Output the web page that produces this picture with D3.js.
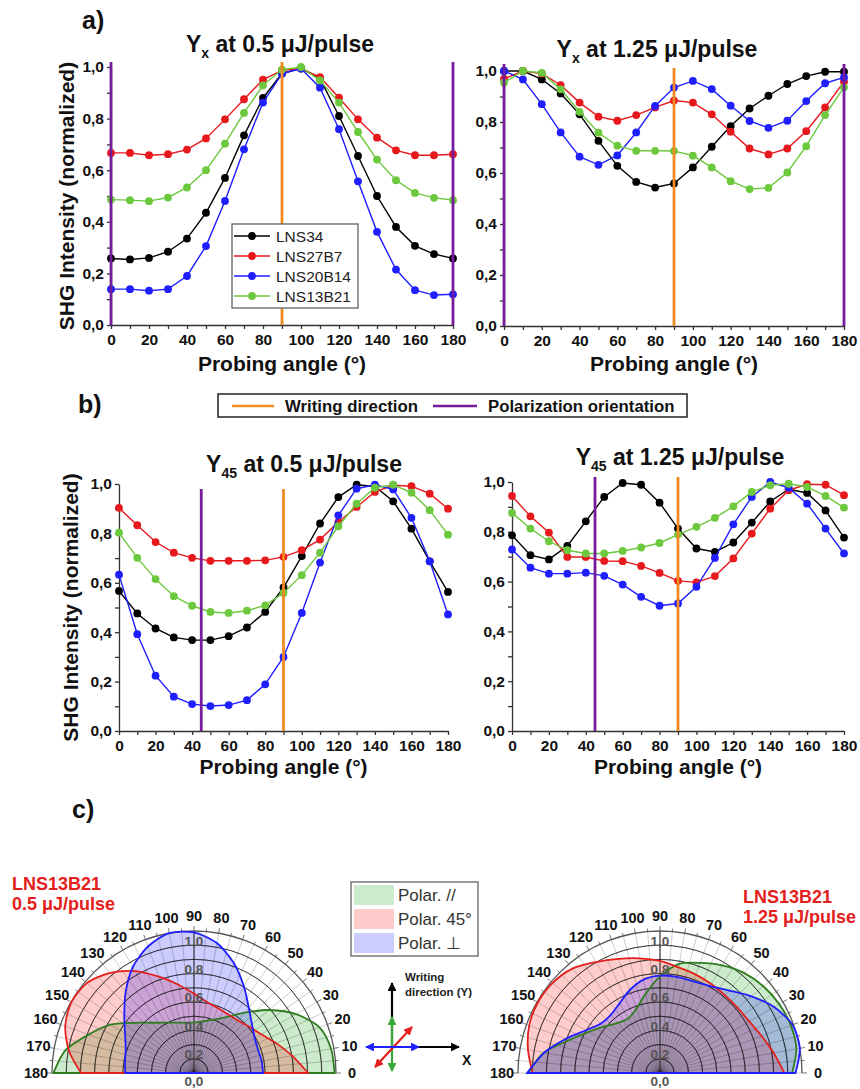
<!DOCTYPE html>
<html>
<head>
<meta charset="utf-8">
<script src="https://cdn.jsdelivr.net/npm/d3@7"></script>
<style>
  body { margin: 0; background: #fff; }
  text { font-family: "Liberation Sans", Arial, sans-serif; }
</style>
</head>
<body>
<svg id="fig" width="860" height="1089"></svg>
<script>
// ---------- Data ----------
const angles = d3.range(0, 181, 10);
const seriesNames = ["LNS34", "LNS27B7", "LNS20B14", "LNS13B21"];
const seriesColors = ["#000000", "#e8191d", "#1e1eff", "#6cc83c"];

const xTicks = [0, 20, 40, 60, 80, 100, 120, 140, 160, 180];
const yTicks = [0, 0.2, 0.4, 0.6, 0.8, 1.0];
const yTickLabels = ["0,0", "0,2", "0,4", "0,6", "0,8", "1,0"];

// Yx at 0.5 uJ/pulse
const yx05_LNS34    = [0.258,0.254,0.26,0.284,0.335,0.435,0.57,0.735,0.88,0.975,0.995,0.955,0.81,0.655,0.5,0.38,0.307,0.275,0.258];
const yx05_LNS27B7  = [0.667,0.667,0.658,0.662,0.68,0.723,0.797,0.875,0.951,0.987,0.994,0.961,0.881,0.797,0.726,0.677,0.658,0.658,0.662];
const yx05_LNS20B14 = [0.139,0.139,0.133,0.139,0.19,0.306,0.481,0.681,0.862,0.974,0.994,0.92,0.759,0.557,0.361,0.215,0.135,0.116,0.119];
const yx05_LNS13B21 = [0.486,0.484,0.48,0.494,0.533,0.6,0.703,0.822,0.929,0.99,1.0,0.948,0.862,0.748,0.641,0.561,0.512,0.493,0.484];

// Yx at 1.25 uJ/pulse
const yx125_LNS34    = [1.0,1.0,0.967,0.912,0.83,0.726,0.628,0.565,0.543,0.559,0.622,0.703,0.784,0.853,0.903,0.949,0.98,0.997,0.997];
const yx125_LNS27B7  = [0.969,1.0,0.99,0.945,0.876,0.821,0.805,0.827,0.857,0.884,0.876,0.83,0.762,0.696,0.673,0.696,0.764,0.857,0.958];
const yx125_LNS20B14 = [1.0,0.967,0.87,0.759,0.664,0.632,0.669,0.759,0.863,0.935,0.961,0.929,0.864,0.804,0.777,0.805,0.882,0.952,0.975];
const yx125_LNS13B21 = [0.954,1.0,0.993,0.928,0.84,0.758,0.707,0.687,0.687,0.686,0.668,0.622,0.568,0.537,0.542,0.602,0.705,0.827,0.936];

// Y45 at 0.5 uJ/pulse
const y4505_LNS34    = [0.567,0.476,0.415,0.379,0.368,0.368,0.384,0.419,0.482,0.581,0.708,0.84,0.947,0.997,0.99,0.93,0.819,0.687,0.563];
const y4505_LNS27B7  = [0.903,0.833,0.765,0.722,0.701,0.689,0.689,0.689,0.691,0.705,0.732,0.775,0.846,0.907,0.968,0.995,0.991,0.961,0.9];
const y4505_LNS20B14 = [0.633,0.392,0.224,0.139,0.109,0.101,0.105,0.125,0.189,0.3,0.478,0.682,0.873,0.981,0.997,0.978,0.863,0.687,0.472];
const y4505_LNS13B21 = [0.803,0.701,0.615,0.546,0.507,0.482,0.478,0.487,0.509,0.559,0.631,0.722,0.829,0.92,0.985,0.997,0.965,0.894,0.795];

// Y45 at 1.25 uJ/pulse
const y45125_LNS34    = [0.786,0.706,0.689,0.743,0.842,0.94,0.996,0.989,0.917,0.813,0.733,0.719,0.757,0.837,0.922,0.971,0.956,0.886,0.777];
const y45125_LNS27B7  = [0.944,0.862,0.797,0.699,0.699,0.683,0.682,0.663,0.635,0.603,0.597,0.622,0.693,0.793,0.893,0.967,0.991,0.989,0.947];
const y45125_LNS20B14 = [0.729,0.656,0.632,0.632,0.636,0.623,0.588,0.539,0.503,0.512,0.579,0.695,0.83,0.94,1.0,0.977,0.913,0.813,0.713];
const y45125_LNS13B21 = [0.876,0.813,0.762,0.726,0.713,0.713,0.723,0.737,0.755,0.789,0.82,0.856,0.902,0.96,0.987,0.993,0.98,0.944,0.897];

// polar "Polar. //" curves of LNS13B21 (the 45 and perpendicular ones are the curves above)
const polarPar05  = [0.99,0.98,0.94,0.83,0.69,0.555,0.455,0.40,0.37,0.355,0.36,0.377,0.409,0.462,0.55,0.68,0.79,0.92,0.99];
const polarPar125 = [0.93,0.975,0.98,0.97,0.95,0.92,0.875,0.825,0.78,0.68,0.57,0.483,0.445,0.46,0.51,0.58,0.68,0.83,0.93];

const polarAngleLabels = d3.range(0, 181, 10);
const polarRings = d3.range(0.1, 1.01, 0.1);
const polarRadialLabels = [0, 0.2, 0.4, 0.6, 0.8, 1.0];
const polarLegend = ["Polar. //", "Polar. 45°", "Polar. ⊥"];
const polarStroke = ["#2f7d1f", "#e4201c", "#1e1eff"];
const polarFill = ["rgba(0,150,0,0.2)", "rgba(255,0,0,0.2)", "rgba(0,0,255,0.2)"];

const writingLine = [90];
const polLinesA = [0, 180];
const polLinesB = [45];

const ORANGE = "#f28a22";
const PURPLE = "#751c9c";

const svg = d3.select("#fig");
const FONT = "'Liberation Sans', Arial, sans-serif";

// ---------- Cartesian panels ----------
function drawPanel(p) {
  const x = d3.scaleLinear().domain([0, 180]).range([p.x0, p.x1]);
  const y = d3.scaleLinear().domain([0, 1]).range([p.yBot, p.yTop]);
  const g = svg.append("g");

  // axes (ticks every 10 / 0.1, labels on majors only)
  const ax = g.append("g")
    .attr("transform", `translate(0,${p.yBot})`)
    .call(d3.axisBottom(x).tickValues(angles).tickSize(4).tickSizeOuter(0).tickPadding(3)
      .tickFormat(d => xTicks.includes(d) ? d : ""));
  const ay = g.append("g")
    .attr("transform", `translate(${p.x0},0)`)
    .call(d3.axisLeft(y).tickValues(d3.range(0, 1.01, 0.1)).tickSize(4).tickSizeOuter(0).tickPadding(3)
      .tickFormat(d => {
        const i = yTicks.findIndex(t => Math.abs(t - d) < 1e-6);
        return i >= 0 ? yTickLabels[i] : "";
      }));
  [ax, ay].forEach(a => {
    a.selectAll("path, line").attr("stroke", "#333").attr("stroke-width", 1.3);
    a.selectAll("text").attr("font-family", FONT).attr("font-weight", "bold")
      .attr("font-size", 15.5).attr("fill", "#111");
  });
  ax.selectAll("text").attr("dy", "0.85em");

  // series
  const line = d3.line().x((d, i) => x(angles[i])).y(d => y(d));
  p.series.forEach((vals, k) => {
    g.append("path").datum(vals).attr("d", line)
      .attr("fill", "none").attr("stroke", seriesColors[k]).attr("stroke-width", 1.4);
    g.selectAll(null).data(vals).enter().append("circle")
      .attr("cx", (d, i) => x(angles[i])).attr("cy", d => y(d)).attr("r", 3.9)
      .attr("fill", seriesColors[k]);
  });

  // reference lines
  p.pol.forEach(v => g.append("line").attr("x1", x(v)).attr("x2", x(v))
    .attr("y1", p.lineTop).attr("y2", p.yBot).attr("stroke", PURPLE).attr("stroke-width", 2.8));
  writingLine.forEach(v => g.append("line").attr("x1", x(v)).attr("x2", x(v))
    .attr("y1", p.orangeTop).attr("y2", p.yBot).attr("stroke", ORANGE).attr("stroke-width", 2.8));

  // title
  const t = g.append("text").attr("x", p.tx).attr("y", p.ty).attr("text-anchor", "middle")
    .attr("font-weight", "bold").attr("font-size", 23).attr("fill", "#111");
  t.append("tspan").text("Y");
  t.append("tspan").attr("font-size", 14).attr("dy", 6).text(p.sub);
  t.append("tspan").attr("dy", -6).text(" at " + p.energy + " μJ/pulse");

  // x title
  g.append("text").attr("x", (p.x0 + p.x1) / 2).attr("y", p.xTitleY).attr("text-anchor", "middle")
    .attr("font-weight", "bold").attr("font-size", 21).attr("fill", "#111").text("Probing angle (°)");

  if (p.yTitleX) {
    g.append("text").attr("transform", `translate(${p.yTitleX},${(p.yTop + p.yBot) / 2}) rotate(-90)`)
      .attr("text-anchor", "middle").attr("font-weight", "bold").attr("font-size", 21)
      .attr("fill", "#111").text("SHG Intensity (normalized)");
  }
  return { x, y };
}

drawPanel({ x0: 111, x1: 453, yTop: 67, yBot: 325, lineTop: 62, orangeTop: 62, pol: polLinesA,
  tx: 280, ty: 52, sub: "x", energy: "0.5", xTitleY: 371, yTitleX: 74,
  series: [yx05_LNS34, yx05_LNS27B7, yx05_LNS20B14, yx05_LNS13B21] });
drawPanel({ x0: 504, x1: 844, yTop: 71, yBot: 326, lineTop: 64, orangeTop: 68, pol: polLinesA,
  tx: 657, ty: 57, sub: "x", energy: "1.25", xTitleY: 371,
  series: [yx125_LNS34, yx125_LNS27B7, yx125_LNS20B14, yx125_LNS13B21] });
drawPanel({ x0: 119, x1: 448, yTop: 484, yBot: 731, lineTop: 489, orangeTop: 489, pol: polLinesB,
  tx: 304, ty: 472, sub: "45", energy: "0.5", xTitleY: 774, yTitleX: 78,
  series: [y4505_LNS34, y4505_LNS27B7, y4505_LNS20B14, y4505_LNS13B21] });
drawPanel({ x0: 512, x1: 844, yTop: 482, yBot: 731, lineTop: 477, orangeTop: 477, pol: polLinesB,
  tx: 680, ty: 465, sub: "45", energy: "1.25", xTitleY: 774,
  series: [y45125_LNS34, y45125_LNS27B7, y45125_LNS20B14, y45125_LNS13B21] });

// series legend in panel a
const leg = svg.append("g");
leg.append("rect").attr("x", 232).attr("y", 224).attr("width", 126).attr("height", 84)
  .attr("fill", "#fff").attr("stroke", "#555").attr("stroke-width", 1.2);
seriesNames.forEach((n, i) => {
  const yy = 236 + i * 20;
  leg.append("line").attr("x1", 234).attr("x2", 270).attr("y1", yy).attr("y2", yy)
    .attr("stroke", seriesColors[i]).attr("stroke-width", 1.4);
  leg.append("circle").attr("cx", 252).attr("cy", yy).attr("r", 3.9).attr("fill", seriesColors[i]);
  leg.append("text").attr("x", 276).attr("y", yy + 5.5).attr("font-size", 15.5).attr("fill", "#222").text(n);
});

// reference line legend
const leg2 = svg.append("g");
leg2.append("rect").attr("x", 218).attr("y", 394).attr("width", 469).attr("height", 23)
  .attr("fill", "#fff").attr("stroke", "#222").attr("stroke-width", 1.5);
[[232, 274, ORANGE, 285, "Writing direction"], [433, 477, PURPLE, 488, "Polarization orientation"]]
  .forEach(([a, b, c, tx, label]) => {
    leg2.append("line").attr("x1", a).attr("x2", b).attr("y1", 406).attr("y2", 406)
      .attr("stroke", c).attr("stroke-width", 2.5);
    leg2.append("text").attr("x", tx).attr("y", 412).attr("font-size", 16.8).attr("font-weight", "bold")
      .attr("fill", "#111").text(label);
  });

// section labels
[["a)", 82, 29], ["b)", 78, 413], ["c)", 72, 818]].forEach(([s, x, y]) =>
  svg.append("text").attr("x", x).attr("y", y).attr("font-size", 25).attr("font-weight", "bold")
    .attr("fill", "#111").text(s));

// ---------- Polar panels ----------
const R = 142;
const rad = d => (90 - d) * Math.PI / 180;

function drawPolar(c) {
  const g = svg.append("g").attr("transform", `translate(${c.cx},${c.cy})`);
  const r = d3.scaleLinear().domain([0, 1]).range([0, R]);
  const area = d3.areaRadial().angle(d => rad(d[0])).innerRadius(0).outerRadius(d => r(d[1]))
    .curve(d3.curveCardinal.tension(0.2));

  const data = c.series.map(vals => vals.map((v, i) => [angles[i], v]));
  data.forEach((d, k) => g.append("path").datum(d).attr("d", area).attr("fill", polarFill[k]));

  // grid
  d3.range(0, 181, 5).forEach(a => {
    g.append("line").attr("x1", 0).attr("y1", 0)
      .attr("x2", r(1) * Math.cos(a * Math.PI / 180)).attr("y2", -r(1) * Math.sin(a * Math.PI / 180))
      .attr("stroke", a === 90 ? "#333" : "rgba(0,0,0,0.22)").attr("stroke-width", a === 90 ? 1.2 : 0.9);
    const t = a % 10 === 0 ? 5 : 3;
    g.append("line")
      .attr("x1", r(1) * Math.cos(a * Math.PI / 180)).attr("y1", -r(1) * Math.sin(a * Math.PI / 180))
      .attr("x2", (r(1) + t) * Math.cos(a * Math.PI / 180)).attr("y2", -(r(1) + t) * Math.sin(a * Math.PI / 180))
      .attr("stroke", "#666").attr("stroke-width", 0.9);
  });
  const arc = d3.arc().innerRadius(d => r(d)).outerRadius(d => r(d))
    .startAngle(-Math.PI / 2).endAngle(Math.PI / 2);
  polarRings.forEach(v => g.append("path").attr("d", arc(v)).attr("fill", "none")
    .attr("stroke", v > 0.99 ? "#555" : "rgba(0,0,0,0.5)").attr("stroke-width", v > 0.99 ? 1.3 : 1));

  // curves
  data.forEach((d, k) => g.append("path").datum(d).attr("d", area).attr("fill", "none")
    .attr("stroke", polarStroke[k]).attr("stroke-width", 1.8));

  // labels
  polarAngleLabels.forEach(a => g.append("text")
    .attr("x", (R + 16) * Math.cos(a * Math.PI / 180)).attr("y", -(R + 15) * Math.sin(a * Math.PI / 180))
    .attr("text-anchor", "middle").attr("dominant-baseline", "central")
    .attr("font-size", 14.5).attr("font-weight", "bold").attr("fill", "#111").text(a));
  polarRadialLabels.forEach(v => g.append("text").attr("x", 0).attr("y", v === 0 ? 8.5 : -r(v) + 10)
    .attr("text-anchor", "middle").attr("dominant-baseline", "central")
    .attr("font-size", 13.5).attr("font-weight", "bold").attr("fill", "#555")
    .text(d3.format(".1f")(v).replace(".", ",")));

  c.label.forEach((s, i) => svg.append("text").attr("x", c.lx).attr("y", c.ly + i * 20)
    .attr("font-size", 18).attr("font-weight", "bold").attr("fill", "#e4201c").text(s));
}

drawPolar({ cx: 194, cy: 1073, series: [polarPar05, y4505_LNS13B21, yx05_LNS13B21],
  label: ["LNS13B21", "0.5 μJ/pulse"], lx: 12, ly: 890 });
drawPolar({ cx: 660, cy: 1073, series: [polarPar125, y45125_LNS13B21, yx125_LNS13B21],
  label: ["LNS13B21", "1.25 μJ/pulse"], lx: 743, ly: 903 });

// polar legend
const pl = svg.append("g");
pl.append("rect").attr("x", 351).attr("y", 882).attr("width", 127).attr("height", 74)
  .attr("fill", "#fff").attr("stroke", "#777").attr("stroke-width", 1.5);
polarLegend.forEach((s, i) => {
  pl.append("rect").attr("x", 354).attr("y", 885 + i * 24).attr("width", 40).attr("height", 20)
    .attr("fill", polarFill[i]);
  pl.append("text").attr("x", 398).attr("y", 901 + i * 24).attr("font-size", 17).attr("fill", "#333").text(s);
});

// writing direction sketch
const defs = svg.append("defs");
[["k", "#000"], ["g", "#3aa83a"], ["r", "#e4201c"], ["b", "#1e1eff"]].forEach(([id, col]) =>
  defs.append("marker").attr("id", "ah" + id).attr("viewBox", "0 0 10 10").attr("refX", 9).attr("refY", 5)
    .attr("markerWidth", 4).attr("markerHeight", 4).attr("orient", "auto-start-reverse")
    .append("path").attr("d", "M0,0L10,5L0,10Z").attr("fill", col));
const sk = svg.append("g").attr("stroke-width", 2.2);
const ox = 392, oy = 1047;
sk.append("line").attr("x1", ox).attr("y1", oy).attr("x2", ox).attr("y2", 983)
  .attr("stroke", "#000").attr("marker-end", "url(#ahk)");
sk.append("line").attr("x1", ox).attr("y1", oy).attr("x2", 459).attr("y2", oy)
  .attr("stroke", "#000").attr("marker-end", "url(#ahk)");
sk.append("line").attr("x1", ox).attr("y1", 1017).attr("x2", ox).attr("y2", 1071)
  .attr("stroke", "#3aa83a").attr("marker-start", "url(#ahg)").attr("marker-end", "url(#ahg)");
sk.append("line").attr("x1", 375).attr("y1", 1067).attr("x2", 412).attr("y2", 1027)
  .attr("stroke", "#e4201c").attr("marker-start", "url(#ahr)").attr("marker-end", "url(#ahr)");
sk.append("line").attr("x1", 366).attr("y1", oy).attr("x2", 419).attr("y2", oy)
  .attr("stroke", "#1e1eff").attr("marker-start", "url(#ahb)").attr("marker-end", "url(#ahb)");
svg.append("text").attr("x", 405).attr("y", 981).attr("font-size", 11.5).attr("font-weight", "bold")
  .attr("fill", "#222").text("Writing");
svg.append("text").attr("x", 405).attr("y", 996).attr("font-size", 11.5).attr("font-weight", "bold")
  .attr("fill", "#222").text("direction (Y)");
svg.append("text").attr("x", 462).attr("y", 1065).attr("font-size", 14).attr("font-weight", "bold")
  .attr("fill", "#111").text("X");
</script>
</body>
</html>
